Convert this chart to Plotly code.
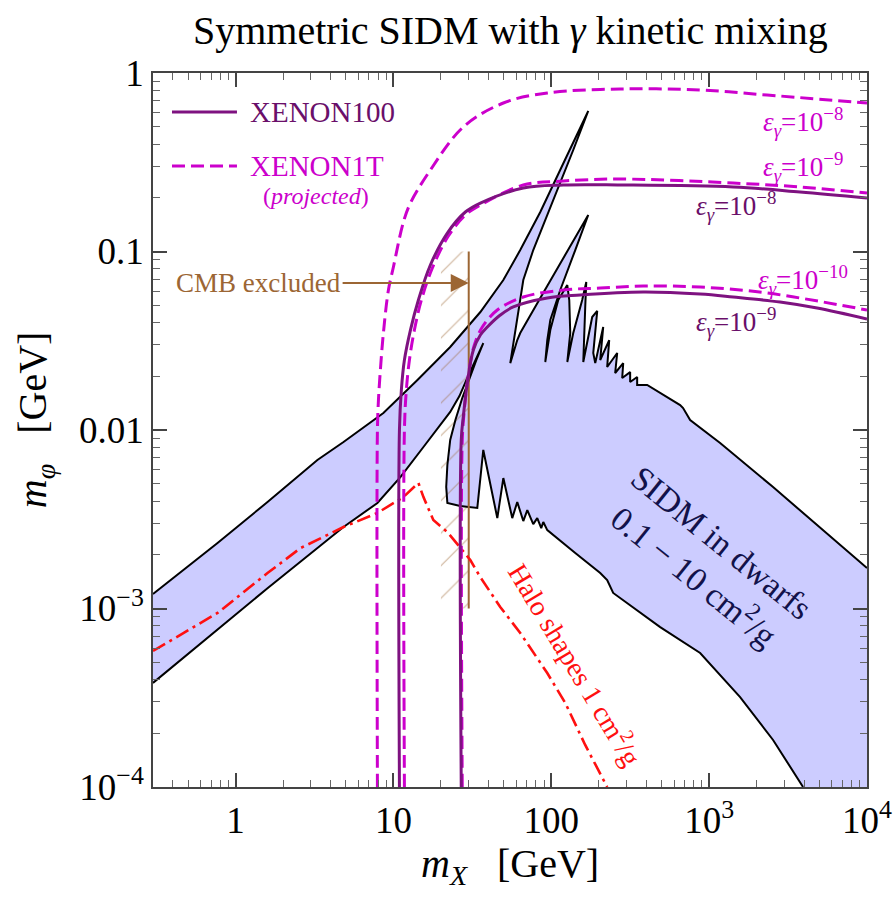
import numpy as np
import plotly.graph_objects as go

# ---------------- data (m_X [GeV], m_phi [GeV]) ----------------
# SIDM band, upper contour (0.1 cm^2/g) incl. resonant spikes, left -> right
sidm_upper_x = [0.3, 0.769, 1.594, 3.30, 4.83, 8.64, 14.2, 22.9, 35.55, 49.7, 63.6, 85.2, 126.3, 171.5,
                137.8, 103, 76.9, 66.5, 59.2, 55.0,
                60.9, 63.6, 85.2, 114, 141.9, 171.5,
                141.9, 114, 98.6, 94.35, 91.6,
                98.6, 110.7, 126.3, 130, 131.9, 126.3,
                137.8, 157, 166.6, 164.1, 159.5, 159.5,
                181.7, 195.5, 184.5, 189.9,
                213.3, 204.2, 232.8, 226, 261.6, 254, 285.6, 281.4, 316, 316, 350, 350,
                405, 542, 655, 684, 758, 1174, 2541, 10000]
sidm_upper_y = [1.205e-3, 2.33e-3, 3.95e-3, 6.79e-3, 8.57e-3, 0.01245, 0.01905, 0.02917, 0.04581, 0.0692, 0.1019, 0.1664, 0.3472, 0.6125,
                0.3703, 0.1943, 0.1019, 0.0692, 0.03631, 0.0237,
                0.0319, 0.03493, 0.05488, 0.0862, 0.119, 0.1601,
                0.1019, 0.06084, 0.0413, 0.0319, 0.02404,
                0.03631, 0.05349, 0.0649, 0.05349, 0.03493, 0.02404,
                0.03493, 0.05349, 0.0675, 0.04888, 0.027, 0.02404,
                0.04296, 0.04645, 0.027, 0.0237,
                0.03776, 0.02466, 0.0319, 0.02254, 0.027, 0.02086, 0.0237, 0.01955, 0.0211, 0.01858, 0.01981, 0.01787,
                0.01787, 0.01531, 0.0138, 0.01328, 0.01138, 8.46e-3, 4.79e-3, 1.686e-3]

# SIDM band, lower contour (10 cm^2/g), right -> left
sidm_lower_x = [3935, 2541, 1571, 877, 489.7, 246.7, 226, 204.2, 141.9, 98.6,
                94.35, 89.0, 86.4, 81.5, 76.9, 70.5, 66.5, 60.9, 56.6, 49.7, 45.52, 37.1, 34.0,
                26.5, 21.97, 21.6, 21.97, 22.9, 24.7, 27.3, 30.3, 33.5, 37.1,
                32.56, 29.39, 26.2, 22.9, 15.5, 11.07, 7.92, 4.83, 1.594, 0.3]
sidm_lower_y = [1e-4, 1.834e-4, 3.19e-4, 5.63e-4, 7.87e-4, 1.222e-3, 1.445e-3, 1.58e-3, 2.046e-3, 2.65e-3,
                2.75e-3, 3.05e-3, 2.82e-3, 3.21e-3, 2.97e-3, 3.56e-3, 3.09e-3, 3.95e-3, 3.21e-3, 5.38e-3, 3.21e-3, 7.73e-3, 3.66e-3,
                3.75e-3, 3.90e-3, 4.80e-3, 6.37e-3, 8.79e-3, 0.01138, 0.0151, 0.01955, 0.02466, 0.0307,
                0.02404, 0.01955, 0.01549, 0.01262, 8.03e-3, 5.45e-3, 3.90e-3, 2.86e-3, 1.30e-3, 3.83e-4]

# Halo shapes 1 cm^2/g
halo_x = [0.3, 0.769, 1.594, 2.58, 4.83, 7.92, 11.57, 14.4, 15.5, 17.9, 22.0, 26.5, 30.7, 35.5, 47.5, 63.6, 94.3, 122.6, 164, 226]
halo_y = [5.78e-4, 9.44e-4, 1.58e-3, 2.18e-3, 2.86e-3, 3.43e-3, 4.21e-3, 5.05e-3, 4.21e-3, 3.13e-3, 2.68e-3, 2.21e-3, 1.87e-3, 1.50e-3, 1.02e-3, 7.29e-4, 4.35e-4, 2.96e-4, 1.72e-4, 1e-4]

# XENON100 (solid), eps = 1e-8 and 1e-9
x100_e8_x = [10.92, 10.92, 11.23, 11.74, 12.82, 14.40, 17.15, 21.97, 28.56, 35.55, 66.5, 119.1, 273.4, 1419, 3767, 10000]
x100_e8_y = [1e-4, 0.01, 0.01675, 0.02466, 0.03631, 0.05349, 0.08404, 0.1269, 0.1664, 0.1869, 0.2268, 0.2358, 0.2358, 0.2298, 0.2155, 0.1994]
x100_e9_x = [26.9, 26.9, 27.7, 29.39, 32.09, 35.55, 39.35, 47.54, 57.45, 94.35, 152.6, 382.2, 877, 1419, 2813, 4830, 10000]
x100_e9_y = [1e-4, 8.79e-3, 0.01183, 0.01834, 0.02806, 0.03404, 0.03776, 0.04406, 0.04888, 0.05488, 0.05702, 0.0593, 0.05776, 0.05559, 0.05212, 0.04823, 0.04188]

# XENON1T projected (dashed), eps = 1e-8, 1e-9, 1e-10
x1t_e8_x = [7.92, 7.92, 8.04, 8.27, 8.64, 9.30, 10.0, 11.57, 12.82, 17.15, 27.7, 49.7, 94.35, 273.4, 877, 2329, 10000]
x1t_e8_y = [1e-4, 0.01, 0.01473, 0.02168, 0.03493, 0.06084, 0.0819, 0.1463, 0.1869, 0.2861, 0.4982, 0.679, 0.7727, 0.8135, 0.8031, 0.7528, 0.679]
x1t_e9_x = [11.74, 11.74, 12.08, 12.63, 13.58, 15.04, 17.65, 22.29, 28.56, 35.55, 66.5, 119.1, 273.4, 1419, 3767, 10000]
x1t_e9_y = [1e-4, 0.01, 0.01675, 0.02466, 0.03631, 0.05349, 0.08086, 0.1221, 0.1601, 0.1822, 0.2358, 0.2483, 0.2547, 0.2418, 0.2298, 0.2127]
x1t_e10_x = [27.3, 27.3, 28.14, 29.83, 32.56, 36.58, 45.52, 66.5, 119.1, 204.2, 382.2, 877, 2329, 10000]
x1t_e10_y = [1e-4, 8.79e-3, 0.01294, 0.02033, 0.02994, 0.03776, 0.047, 0.05559, 0.06084, 0.06244, 0.06406, 0.06324, 0.05855, 0.047]

# CMB exclusion (vertical bound + hatched side)
cmb_x = 30.0
cmb_x_hatch = 20.0
cmb_y = [1e-3, 0.1]
cmb_arrow_y = 0.0666
cmb_text_x = 1.40

# axes
x_range = [0.3, 1e4]
y_range = [1e-4, 1.0]
x_tick_vals = [1, 10, 100, 1000, 10000]
x_tick_text = ['1', '10', '100', '10<sup>3</sup>', '10<sup>4</sup>']
y_tick_vals = [1e-4, 1e-3, 1e-2, 0.1, 1]
y_tick_text = ['10<sup>\u22124</sup>', '10<sup>\u22123</sup>', '0.01', '0.1', '1']

# ---------------- styles ----------------
FONT = 'Liberation Serif'
PURPLE = '#7E1280'
PURPLE_TXT = '#6A0F6A'
MAGENTA = '#CC00CC'
RED = '#FF1010'
BROWN = '#9C6634'
FILL = '#CCCCFF'
NAVY = '#12124A'

x_minor = [m * 10.0 ** d for d in range(-1, 4) for m in range(2, 10) if x_range[0] <= m * 10.0 ** d <= x_range[1]]
y_minor = [m * 10.0 ** d for d in range(-4, 0) for m in range(2, 10)]

fig = go.Figure()

# shaded SIDM region
poly_x = sidm_upper_x + [x_range[1]] + sidm_lower_x
poly_y = sidm_upper_y + [y_range[0]] + sidm_lower_y
fig.add_trace(go.Scatter(x=poly_x, y=poly_y, mode='lines', fill='toself', fillcolor=FILL,
                         line=dict(width=0, color=FILL), hoverinfo='skip'))

# CMB hatch
fig.add_trace(go.Scatter(x=[cmb_x_hatch, cmb_x, cmb_x, cmb_x_hatch, cmb_x_hatch],
                         y=[cmb_y[0], cmb_y[0], cmb_y[1], cmb_y[1], cmb_y[0]],
                         mode='lines', fill='toself', fillcolor='rgba(0,0,0,0)',
                         fillpattern=dict(shape='/', fgcolor=BROWN, bgcolor='rgba(0,0,0,0)', size=23, solidity=0.05),
                         line=dict(width=0, color='rgba(0,0,0,0)'), hoverinfo='skip'))

# SIDM contours
for xs, ys in [(sidm_upper_x, sidm_upper_y), (sidm_lower_x, sidm_lower_y)]:
    fig.add_trace(go.Scatter(x=xs, y=ys, mode='lines', line=dict(color='black', width=2), hoverinfo='skip'))

# CMB line
fig.add_trace(go.Scatter(x=[cmb_x, cmb_x], y=cmb_y, mode='lines', line=dict(color=BROWN, width=2), hoverinfo='skip'))

# Halo shapes
fig.add_trace(go.Scatter(x=halo_x, y=halo_y, mode='lines',
                         line=dict(color=RED, width=2.6, dash='14px,5px,3px,5px'), hoverinfo='skip'))

# XENON curves
for xs, ys in [(x1t_e8_x, x1t_e8_y), (x1t_e9_x, x1t_e9_y), (x1t_e10_x, x1t_e10_y)]:
    fig.add_trace(go.Scatter(x=xs, y=ys, mode='lines', line=dict(color=MAGENTA, width=3, dash='13px,6px'),
                             line_shape='spline', hoverinfo='skip'))
for xs, ys in [(x100_e8_x, x100_e8_y), (x100_e9_x, x100_e9_y)]:
    fig.add_trace(go.Scatter(x=xs, y=ys, mode='lines', line=dict(color=PURPLE, width=3),
                             line_shape='spline', hoverinfo='skip'))

# ---------------- layout ----------------
axis_common = dict(type='log', showline=True, linecolor='#444', linewidth=1.5, mirror='ticks',
                   ticks='inside', ticklen=14, tickwidth=1.5, tickcolor='#444',
                   showgrid=False, zeroline=False, tickfont=dict(family=FONT, size=37, color='black'))
fig.update_xaxes(range=[np.log10(x_range[0]), np.log10(x_range[1])], tickvals=x_tick_vals, ticktext=x_tick_text,
                 minor=dict(ticks='inside', ticklen=7, tickwidth=1.2, tickcolor='#666', tickvals=x_minor, showgrid=False),
                 **axis_common)
fig.update_yaxes(range=[np.log10(y_range[0]), np.log10(y_range[1])], tickvals=y_tick_vals, ticktext=y_tick_text,
                 minor=dict(ticks='inside', ticklen=7, tickwidth=1.2, tickcolor='#666', tickvals=y_minor, showgrid=False),
                 **axis_common)

ann = []
def txt(text, x, y, size, color='black', angle=0, xanchor='center', yanchor='middle', ref='paper'):
    ann.append(dict(text=text, x=x, y=y, xref=ref, yref=ref, showarrow=False, textangle=angle,
                    xanchor=xanchor, yanchor=yanchor, font=dict(family=FONT, size=size, color=color)))

txt('Symmetric SIDM with <i>\u03b3</i> kinetic mixing', 0.5, 1.060, 40)
txt('<i>m<sub>X</sub></i>\u00a0\u00a0\u00a0[GeV]', 0.50, -0.110, 40)
txt('<i>m<sub>\u03c6</sub></i>\u00a0\u00a0\u00a0[GeV]', -0.165, 0.514, 40, angle=-90)

# legend
txt('XENON100', 0.133, 0.9454, 29, PURPLE_TXT, xanchor='left')
txt('XENON1T', 0.133, 0.8697, 29, MAGENTA, xanchor='left')
txt('(<i>projected</i>)', 0.2283, 0.8277, 24, MAGENTA)

# epsilon labels
txt('<i>\u03b5</i><sub><i>\u03b3</i></sub>=10<sup>\u22128</sup>', 0.9104, 0.9314, 27, MAGENTA)
txt('<i>\u03b5</i><sub><i>\u03b3</i></sub>=10<sup>\u22129</sup>', 0.9104, 0.8683, 27, MAGENTA)
txt('<i>\u03b5</i><sub><i>\u03b3</i></sub>=10<sup>\u22128</sup>', 0.8165, 0.8137, 27, PURPLE_TXT)
txt('<i>\u03b5</i><sub><i>\u03b3</i></sub>=10<sup>\u221210</sup>', 0.9104, 0.7101, 27, MAGENTA)
txt('<i>\u03b5</i><sub><i>\u03b3</i></sub>=10<sup>\u22129</sup>', 0.8165, 0.6513, 27, PURPLE_TXT)

txt('Halo shapes 1 cm<sup>2</sup>/g', 0.593, 0.172, 28, RED, angle=59)
txt('SIDM in dwarfs<br>0.1 \u2212 10 cm<sup>2</sup>/g', 0.776, 0.318, 34, NAVY, angle=39)

# CMB arrow
ann.append(dict(text='CMB excluded', x=np.log10(cmb_x), y=np.log10(cmb_arrow_y), xref='x', yref='y',
                ax=np.log10(cmb_text_x), ay=np.log10(cmb_arrow_y), axref='x', ayref='y',
                showarrow=True, arrowhead=2, arrowsize=1.8, arrowwidth=2, arrowcolor=BROWN,
                font=dict(family=FONT, size=27, color=BROWN)))

shapes = [
    dict(type='line', xref='paper', yref='paper', x0=0.0266, x1=0.1176, y0=0.9454, y1=0.9454,
         line=dict(color=PURPLE, width=3)),
    dict(type='line', xref='paper', yref='paper', x0=0.0266, x1=0.1176, y0=0.8697, y1=0.8697,
         line=dict(color=MAGENTA, width=3, dash='13px,6px')),
]

fig.update_layout(width=896, height=898, margin=dict(l=153, r=29, t=73, b=111, autoexpand=False),
                  paper_bgcolor='white', plot_bgcolor='white', showlegend=False,
                  annotations=ann, shapes=shapes, font=dict(family=FONT))

fig.write_html('out.html')
